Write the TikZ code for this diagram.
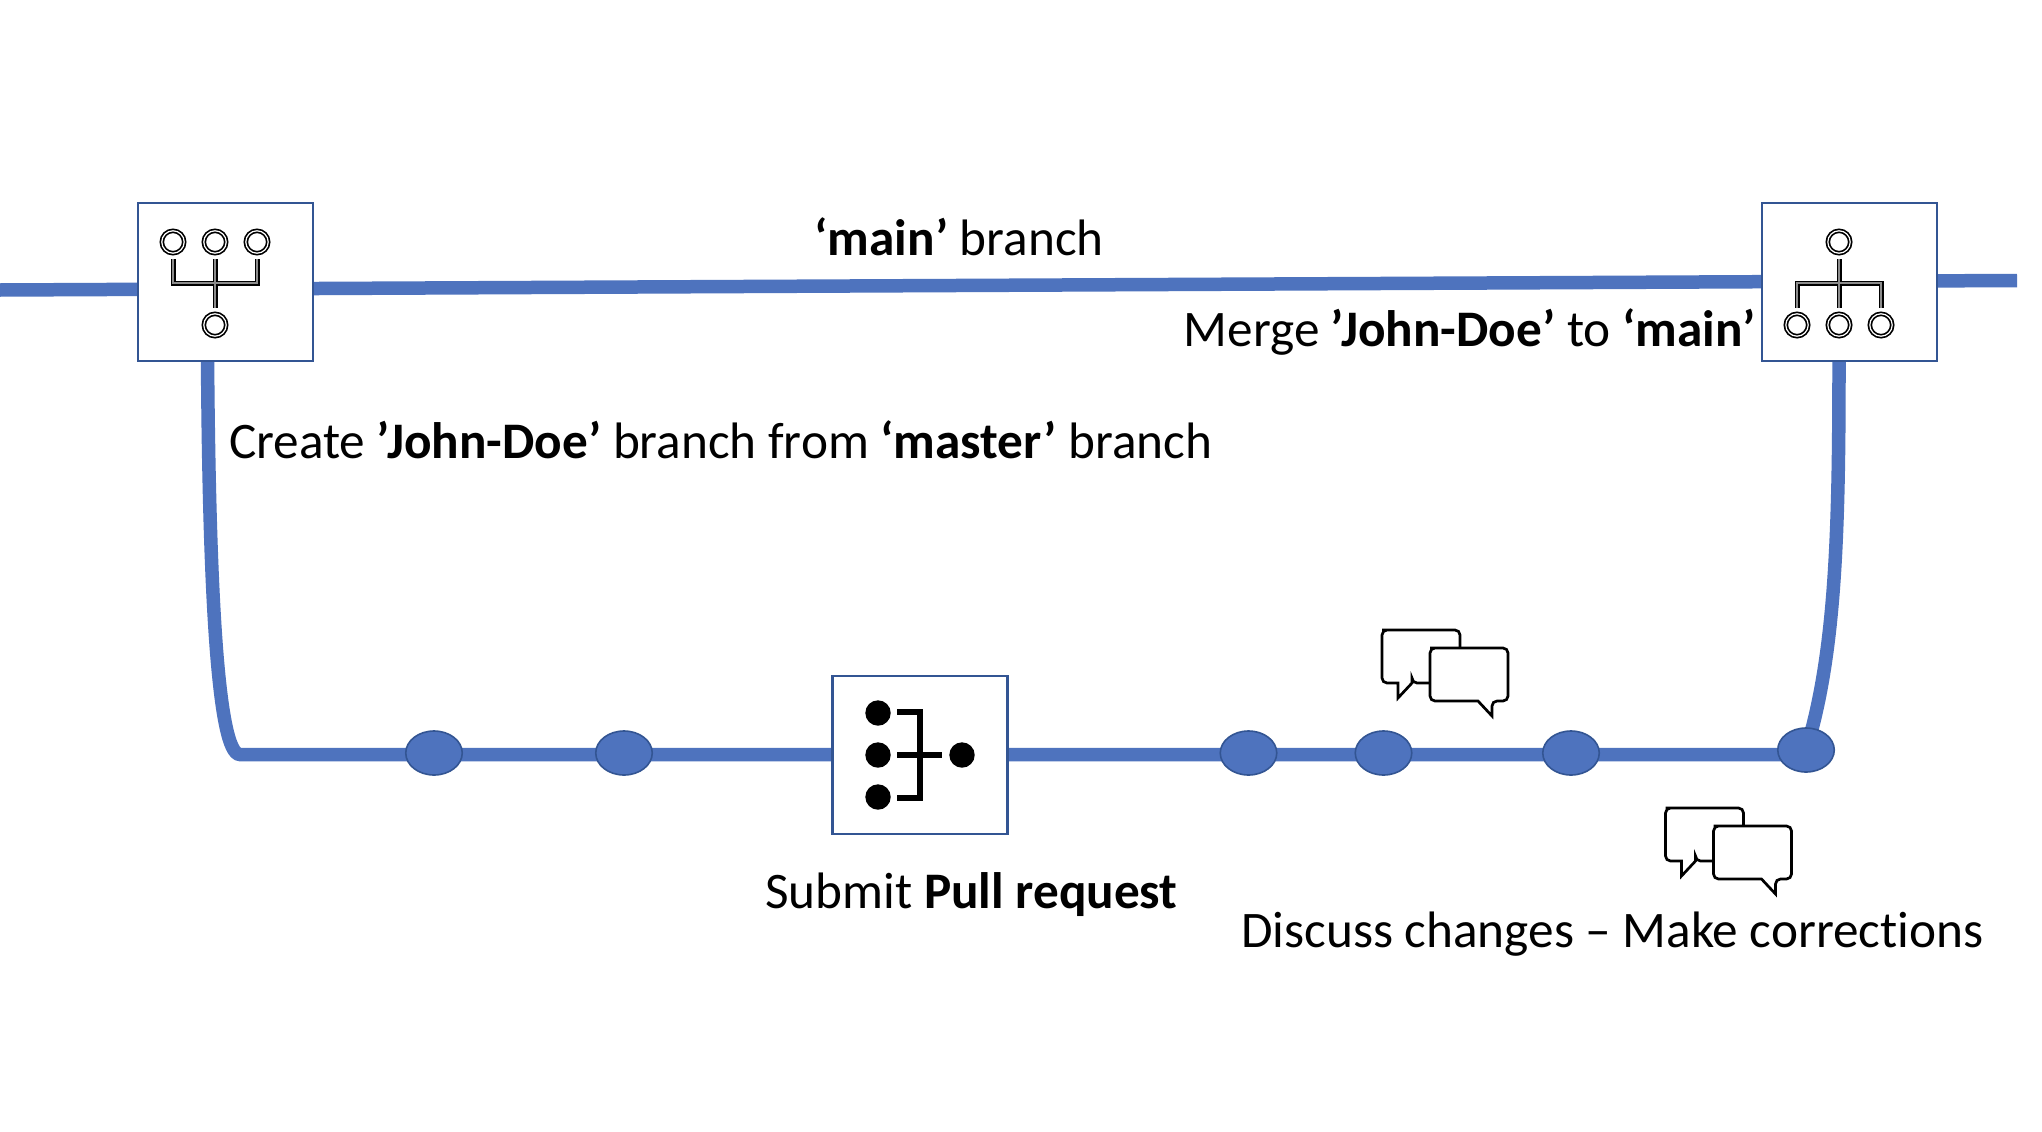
\documentclass[tikz,border=0pt]{standalone}
\usepackage{fontspec}
\setmainfont[Ligatures=NoCommon]{Carlito}
\usetikzlibrary{backgrounds,calc,shapes.geometric}
\definecolor{flow}{HTML}{4E73BE}
\definecolor{edge}{HTML}{335593}
\tikzset{
  x=1pt,y=-1pt,
  flowline/.style={draw=flow,line width=13.5pt},
  iconbox/.style={draw=edge,line width=2.2pt,fill=white,minimum width=175pt,minimum height=158pt,inner sep=0pt},
  commit/.style={ellipse,draw=edge,line width=1.6pt,fill=flow,minimum width=56.5pt,minimum height=44pt,inner sep=0pt},
  label/.style={anchor=base west,inner sep=0pt,font=\fontsize{51.25}{60}\selectfont},
  ringtrace/.style={draw=black,line width=4.6pt},
  ringcore/.style={draw=white!55!black,line width=2pt},
  solidtrace/.style={draw=black,line width=6pt},
  bubble/.style={draw=black,line width=2.7pt,fill=white,line join=miter},
}
\newcommand{\ringdot}[2]{%
  \draw[ringtrace] (#1,#2) circle[radius=11.2];
  \draw[draw=white,line width=1.2pt] (#1,#2) circle[radius=11.2];}
\newcommand{\bubblepair}[2]{%
  \begin{scope}[shift={(#1,#2)}]
  \draw[bubble] (1387,630) [rounded corners=5pt] -- (1460,630) -- (1460,683) -- (1412,683) [rounded corners=0pt] -- (1412,683) -- (1398,698) -- (1398,683) [rounded corners=5pt] -- (1382,683) -- (1382,630) -- cycle;
  \draw[bubble] (1435,648) [rounded corners=5pt] -- (1508,648) -- (1508,701) -- (1492,701) [rounded corners=0pt] -- (1492,716) -- (1478,701) [rounded corners=5pt] -- (1430,701) -- (1430,648) -- cycle;
  \end{scope}}
\begin{document}
\begin{tikzpicture}
\useasboundingbox (0,0) rectangle (2042,1132);
% boxes
\node[iconbox] (boxa) at (225.5,282) {};
\node[iconbox] (boxb) at (1849.5,282) {};
\node[iconbox] (boxc) at (920,755) {};
% commits
\node[commit] (c1) at (434,753) {};
\node[commit] (c2) at (624,753) {};
\node[commit] (c3) at (1248.5,753) {};
\node[commit] (c4) at (1383.5,753) {};
\node[commit] (c5) at (1571,753) {};
\node[commit] (c6) at (1806,750) {};
% free ends and anchors of the branch lines
\coordinate (mainL) at (0,290);
\coordinate (mainR) at (2017,280.5);
\coordinate (downA) at (207.5,355);
\coordinate (downB) at (1839,355);
\begin{scope}[on background layer]
\fill[white] (0,0) rectangle (2042,1132);
\draw[flowline] (mainL) -- (mainR);
\draw[flowline] (downA) .. controls (209,580) and (217,754.5) .. (240,754.5) -- (c6.center |- 0,754.5);
\draw[flowline] (downB) .. controls (1839,520) and (1837,650) .. (c6.center);
\end{scope}
% icon: merge-up
\draw[ringtrace,line width=5pt] (173,259) -- (173,283) -- (257,283) -- (257,259);
\draw[ringtrace,line width=5pt] (215,259) -- (215,308);
\draw[ringcore] (173,259) -- (173,283) -- (257,283) -- (257,259);
\draw[ringcore] (215,259) -- (215,308);
\ringdot{173}{242}\ringdot{215}{242}\ringdot{257}{242}\ringdot{215}{325}
% icon: merge-down
\draw[ringtrace,line width=5pt] (1797,308) -- (1797,283) -- (1881,283) -- (1881,308);
\draw[ringtrace,line width=5pt] (1839,259) -- (1839,308);
\draw[ringcore] (1797,308) -- (1797,283) -- (1881,283) -- (1881,308);
\draw[ringcore] (1839,259) -- (1839,308);
\ringdot{1839}{242}\ringdot{1797}{325}\ringdot{1839}{325}\ringdot{1881}{325}
% icon: pull request
\fill (878,713) circle[radius=12.7];
\fill (878,755) circle[radius=12.7];
\fill (878,797) circle[radius=12.7];
\fill (962,755) circle[radius=12.7];
\draw[solidtrace] (897,711.5) -- (920,711.5) -- (920,798) -- (897,798);
\draw[solidtrace] (897,755) -- (942,755);
% speech bubbles
\bubblepair{0}{0}
\bubblepair{283.5}{178}
% labels
\node[label] (lmain) at (814.5,255) {\textbf{‘main’} branch};
\node[label] (lmerge) at (1183.5,346.5) {Merge \textbf{’John-Doe’} to \textbf{‘main’}};
\node[label] (lcreate) at (229,458) {Create \textbf{’John-Doe’} branch from \textbf{‘master’} branch};
\node[label] (lsubmit) at (765,908) {Submit \textbf{Pull request}};
\node[label] (ldisc) at (1241,947) {Discuss changes – Make corrections};
\end{tikzpicture}
\end{document}
